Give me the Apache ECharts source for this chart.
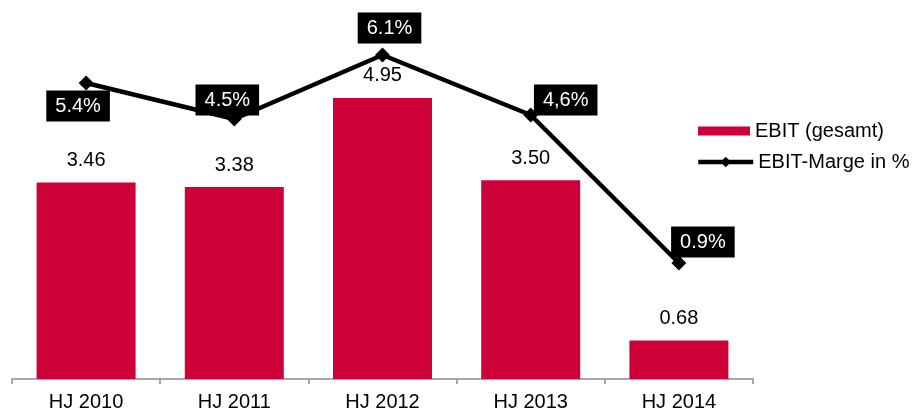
<!DOCTYPE html>
<html>
<head>
<meta charset="utf-8">
<script src="https://cdn.jsdelivr.net/npm/echarts@6/dist/echarts.min.js"></script>
<style>
html,body{margin:0;padding:0;background:#fff;}
#chart{width:919px;height:412px;}
</style>
</head>
<body>
<div id="chart"></div>
<script>
var categories = ['HJ 2010', 'HJ 2011', 'HJ 2012', 'HJ 2013', 'HJ 2014'];
var ebitValues = [3.46, 3.38, 4.95, 3.50, 0.68];
var margeValues = [5.4, 4.5, 6.1, 4.6, 0.9];
var margeLabels = ['5.4%', '4.5%', '6.1%', '4,6%', '0.9%'];

var labelOffsets = [[-8, 23], [-7, -19], [7, -27], [35, -15], [24, -21]];

var FONT = '"Liberation Sans", Arial, sans-serif';

var lineData = margeValues.map(function (v, i) {
  return {
    value: v,
    label: { offset: labelOffsets[i] }
  };
});

var chart = echarts.init(document.getElementById('chart'));
chart.setOption({
  animation: false,
  backgroundColor: '#ffffff',
  textStyle: { fontFamily: FONT },
  grid: { left: 12, right: 166, top: 19, bottom: 33, containLabel: false },
  legend: [
    {
      data: [{ name: 'EBIT (gesamt)', icon: 'rect' }],
      left: 698, top: 121, padding: 0,
      itemWidth: 52, itemHeight: 9,
      textStyle: { fontSize: 20, color: '#000', fontFamily: FONT }
    },
    {
      data: ['EBIT-Marge in %'],
      left: 696, top: 152, padding: 0,
      itemWidth: 55, itemHeight: 13,
      lineStyle: { width: 4.5, color: '#000' },
      textStyle: { fontSize: 20, color: '#000', fontFamily: FONT }
    }
  ],
  xAxis: {
    type: 'category',
    data: categories,
    axisLine: { lineStyle: { color: '#8c8c8c', width: 1.5 } },
    axisTick: { show: true, length: 5, lineStyle: { color: '#8c8c8c', width: 1.5 } },
    axisLabel: { fontSize: 20, color: '#000', margin: 13, fontFamily: FONT }
  },
  yAxis: [
    { type: 'value', min: 0, max: 6.34, show: false, splitLine: { show: false } },
    { type: 'value', min: -2, max: 7, show: false, splitLine: { show: false } }
  ],
  series: [
    {
      name: 'EBIT (gesamt)',
      type: 'bar',
      data: ebitValues,
      barWidth: 99,
      itemStyle: { color: '#CE0038' },
      label: {
        show: true,
        position: 'top',
        distance: 12,
        fontSize: 20,
        color: '#000',
        fontFamily: FONT,
        formatter: function (p) { return p.value.toFixed(2); }
      }
    },
    {
      name: 'EBIT-Marge in %',
      type: 'line',
      yAxisIndex: 1,
      data: lineData,
      symbol: 'diamond',
      symbolSize: 15,
      lineStyle: { color: '#000', width: 4.5 },
      itemStyle: { color: '#000' },
      z: 5,
      label: {
        show: true,
        position: 'inside',
        align: 'center',
        verticalAlign: 'middle',
        backgroundColor: '#000',
        color: '#fff',
        fontSize: 20,
        fontFamily: FONT,
        padding: [6, 9, 5, 9],
        formatter: function (p) { return margeLabels[p.dataIndex]; }
      }
    }
  ]
});
</script>
</body>
</html>
